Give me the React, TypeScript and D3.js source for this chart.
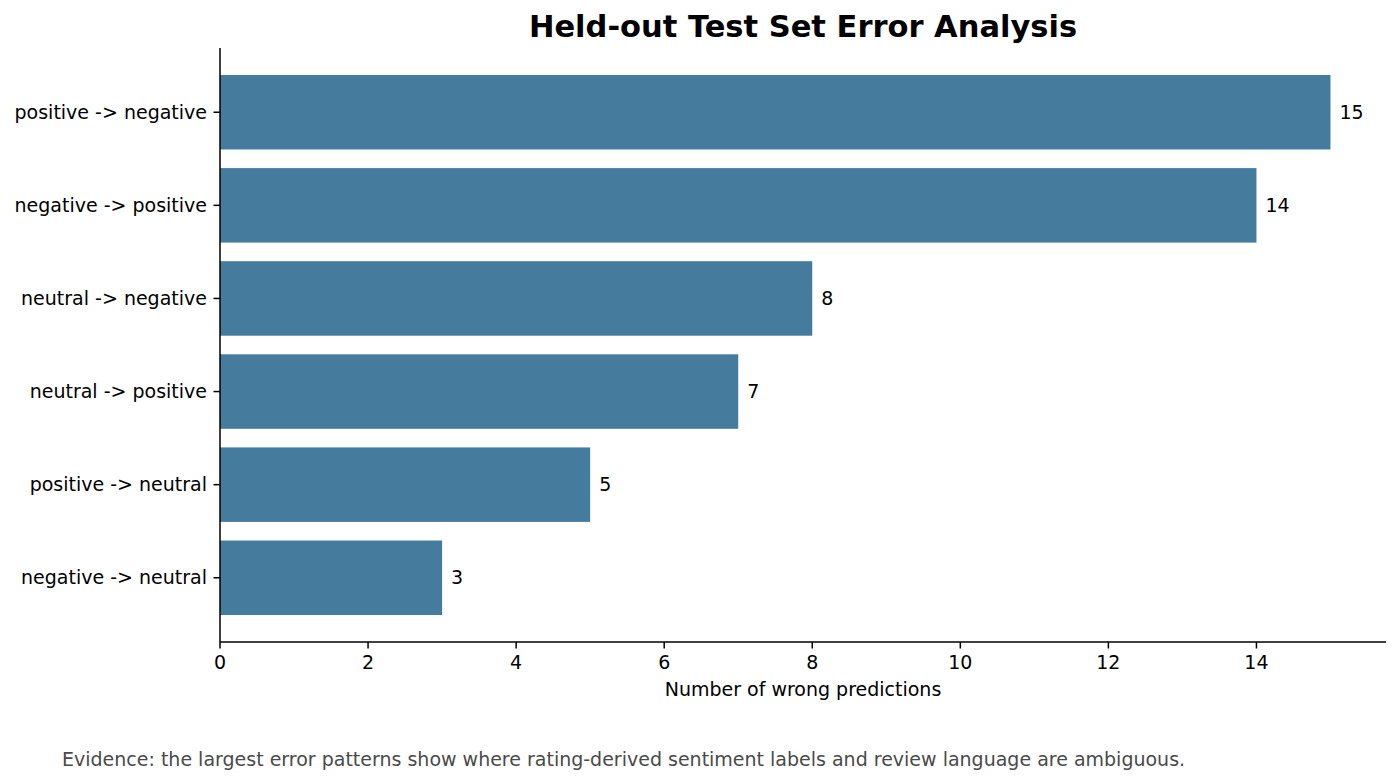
import React from 'react';
import * as d3 from 'd3';

const categories = [
  'positive -> negative',
  'negative -> positive',
  'neutral -> negative',
  'neutral -> positive',
  'positive -> neutral',
  'negative -> neutral',
];
const counts = [15, 14, 8, 7, 5, 3];
const xTicks = [0, 2, 4, 6, 8, 10, 12, 14];

const title = 'Held-out Test Set Error Analysis';
const xLabel = 'Number of wrong predictions';
const caption =
  'Evidence: the largest error patterns show where rating-derived sentiment labels and review language are ambiguous.';

const W = 1400;
const H = 783;
const font = '"DejaVu Sans", sans-serif';
const fs = 19;

export default function App() {
  const left = 220;
  const right = 1386;
  const top = 48;
  const bottom = 642;

  const maxVal = d3.max(counts) as number;
  const x = d3.scaleLinear().domain([0, maxVal * 1.05]).range([left, right]);
  const n = categories.length;
  const pad = (n - 1 + 0.8) * 0.05;
  const y = d3
    .scaleLinear()
    .domain([-0.4 - pad, n - 1 + 0.4 + pad])
    .range([top, bottom]);
  const barH = y(0.4) - y(-0.4);

  return (
    <div style={{ position: 'absolute', left: 0, top: 0 }}>
      <svg width={W} height={H} style={{ display: 'block', background: '#fff' }}>
        <text
          x={(left + right) / 2}
          y={top - 11}
          textAnchor="middle"
          fontFamily={font}
          fontWeight="bold"
          fontSize={30.5}
          fill="#000"
        >
          {title}
        </text>

        {counts.map((v, i) => (
          <g key={categories[i]}>
            <rect
              x={x(0)}
              y={y(i) - barH / 2}
              width={x(v) - x(0)}
              height={barH}
              fill="#457b9d"
            />
            <text
              x={x(v) + 9}
              y={y(i)}
              dy="0.35em"
              fontFamily={font}
              fontSize={fs}
              fill="#000"
            >
              {v}
            </text>
            <line x1={left} x2={left - 6.5} y1={y(i)} y2={y(i)} stroke="#000" strokeWidth={1.5} />
            <text
              x={left - 13}
              y={y(i)}
              dy="0.35em"
              textAnchor="end"
              fontFamily={font}
              fontSize={fs}
              fill="#000"
            >
              {categories[i]}
            </text>
          </g>
        ))}

        {xTicks.map((t) => (
          <g key={t}>
            <line x1={x(t)} x2={x(t)} y1={bottom} y2={bottom + 6.5} stroke="#000" strokeWidth={1.5} />
            <text
              x={x(t)}
              y={bottom + 27}
              textAnchor="middle"
              fontFamily={font}
              fontSize={fs}
              fill="#000"
            >
              {t}
            </text>
          </g>
        ))}

        <line x1={left} x2={left} y1={top} y2={bottom} stroke="#000" strokeWidth={1.5} />
        <line x1={left} x2={right} y1={bottom} y2={bottom} stroke="#000" strokeWidth={1.5} />

        <text
          x={(left + right) / 2}
          y={bottom + 54}
          textAnchor="middle"
          fontFamily={font}
          fontSize={fs}
          fill="#000"
        >
          {xLabel}
        </text>

        <text x={62} y={766} fontFamily={font} fontSize={fs} fill="#4a4a4a">
          {caption}
        </text>
      </svg>
    </div>
  );
}
